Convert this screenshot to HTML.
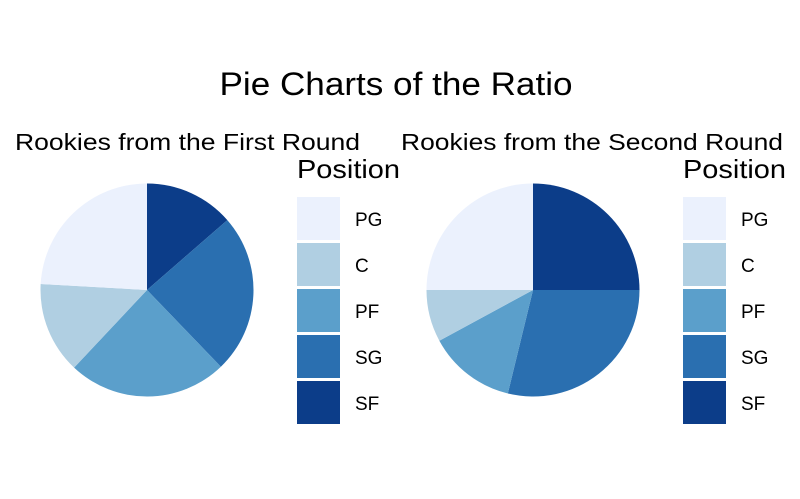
<!DOCTYPE html>
<html><head><meta charset="utf-8"><style>
body{margin:0;background:#fff;}
svg text{font-family:"Liberation Sans",Arial,sans-serif;fill:#000;}
</style></head><body>
<svg width="800" height="494" xmlns="http://www.w3.org/2000/svg">
<rect width="800" height="494" fill="#fff"/>
<text x="396" y="95" font-size="32" text-anchor="middle" textLength="353" lengthAdjust="spacingAndGlyphs">Pie Charts of the Ratio</text>
<g id="p1"></g><g id="p2"></g>
</svg>
<script>
const categories = ["SF","SG","PF","C","PG"];
const legendOrder = ["PG","C","PF","SG","SF"];
const firstRound = [13.6, 24.2, 24.2, 13.9, 24.1];
const secondRound = [25, 28.8, 13.3, 7.9, 25];
const colors = {PG:"#ebf1fd",C:"#b0cfe2",PF:"#5b9fcb",SG:"#2a6fb0",SF:"#0c3d89"};
const NS="http://www.w3.org/2000/svg";
function mk(t,a,p){const e=document.createElementNS(NS,t);for(const k in a)e.setAttribute(k,a[k]);p.appendChild(e);return e;}
function drawPie(gid, vals, cx, title, lx, tx0, tw){
  const g=document.getElementById(gid);
  const cy=290, r=106.5;
  const tot=vals.reduce((a,b)=>a+b,0);
  let acc=0;
  const t=mk('text',{x:tx0,y:150,'font-size':23,textLength:tw,lengthAdjust:'spacingAndGlyphs'},g);
  t.textContent=title;
  
  
  vals.forEach((v,i)=>{
    const a0=acc/tot*2*Math.PI; acc+=v; const a1=acc/tot*2*Math.PI;
    const x0=cx+r*Math.sin(a0), y0=cy-r*Math.cos(a0), x1=cx+r*Math.sin(a1), y1=cy-r*Math.cos(a1);
    const large=(a1-a0)>Math.PI?1:0;
    const p=mk('path',{d:`M${cx},${cy}L${x0},${y0}A${r},${r} 0 ${large} 1 ${x1},${y1}Z`,fill:colors[categories[i]]},g);
    
    
  });
  const lt=mk('text',{x:lx,y:178,'font-size':26,textLength:103,lengthAdjust:'spacingAndGlyphs'},g);
  lt.textContent='Position';
  
  
  legendOrder.forEach((c,i)=>{
    const y=197+i*46;
    const k=mk('rect',{x:lx,y:y,width:43,height:43,fill:colors[c]},g);
    
    
    const tx=mk('text',{x:lx+58,y:y+29,'font-size':19},g);
    tx.textContent=c;
    
    
  });
}
drawPie('p1', firstRound, 147, 'Rookies from the First Round', 297, 15, 345);
drawPie('p2', secondRound, 533, 'Rookies from the Second Round', 683, 401, 382);
</script>
</body></html>
